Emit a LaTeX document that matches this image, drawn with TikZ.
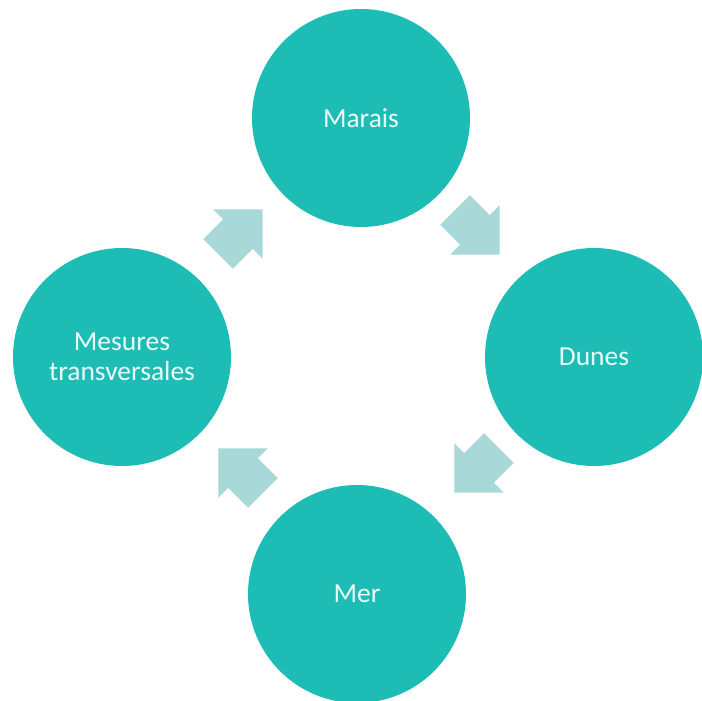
\documentclass[tikz,border=0pt]{standalone}
\usepackage{fontspec}
\setmainfont{Carlito}
\definecolor{tealc}{RGB}{29,188,180}
\definecolor{arrowc}{RGB}{168,217,216}
\definecolor{txtc}{RGB}{232,250,250}
\begin{document}
\begin{tikzpicture}[x=1pt,y=-1pt,
  stage/.style={circle,fill=tealc,minimum size=218pt,inner sep=0pt,text=txtc,align=center,font=\fontsize{27.5}{30}\selectfont},
  flowfill/.style={fill=arrowc,draw=none},
  blockarr/.pic={\path[flowfill] (-31,-21) -- (-3,-21) -- (-3,-35) -- (32,0) -- (-3,35) -- (-3,21) -- (-31,21) -- cycle;}]
\useasboundingbox (0,0) rectangle (702,701);
\node[stage] (marais) at (361,118) {Marais};
\node[stage] (dunes) at (594,357) {Dunes};
\node[stage] (mer) at (357,594) {Mer};
\node[stage] (mesures) at (122,357) {Mesures\\transversales};
\pic[rotate=45] at (240,232) {blockarr};
\pic[rotate=-45] at (477,232) {blockarr};
\pic[rotate=-135] at (477,470) {blockarr};
\pic[rotate=135] at (241,471) {blockarr};
\end{tikzpicture}
\end{document}
